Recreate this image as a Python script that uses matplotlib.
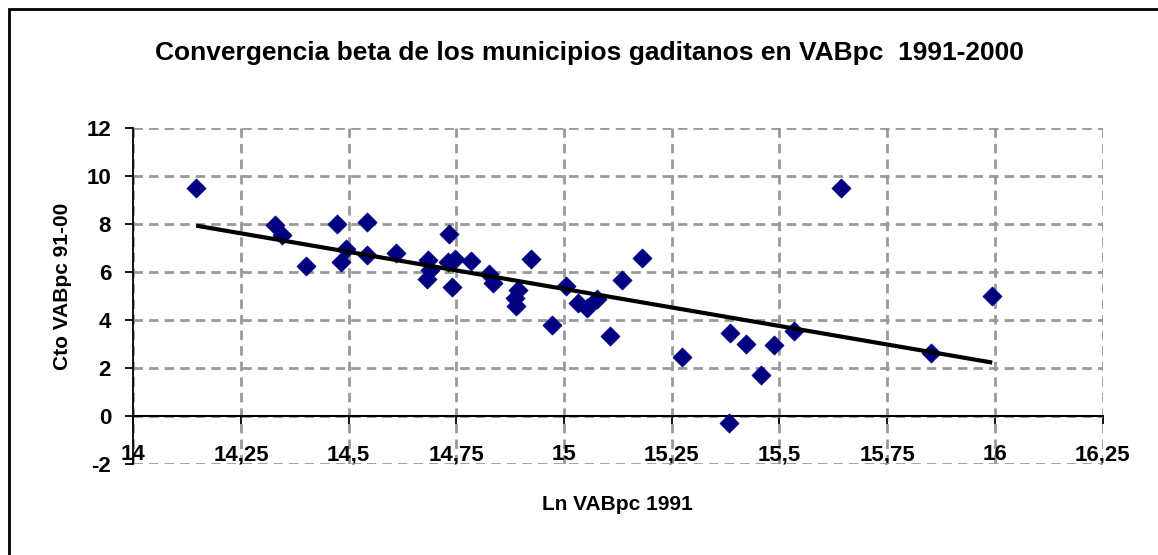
import numpy as np
import matplotlib
matplotlib.use("Agg")
import matplotlib.pyplot as plt
from matplotlib.patches import Rectangle
from matplotlib.ticker import FixedLocator, FuncFormatter

plt.rcParams['font.family'] = ['Liberation Sans', 'DejaVu Sans']
plt.rcParams['axes.unicode_minus'] = False

# Data
ln_vabpc_1991 = [14.146, 14.328, 14.345, 14.401, 14.474, 14.482, 14.493, 14.542, 14.542, 14.609,
                 14.683, 14.689, 14.681, 14.732, 14.731, 14.747, 14.739, 14.785, 14.826, 14.834,
                 14.892, 14.886, 14.889, 14.924, 14.971, 15.004, 15.033, 15.053, 15.076, 15.107,
                 15.135, 15.182, 15.274, 15.386, 15.384, 15.423, 15.458, 15.487, 15.534, 15.642,
                 15.852, 15.994]
cto_vabpc = [9.50, 7.96, 7.55, 6.25, 8.03, 6.43, 6.97, 8.11, 6.71, 6.80,
             6.53, 6.10, 5.71, 7.58, 6.42, 6.55, 5.37, 6.46, 5.92, 5.54,
             5.26, 4.94, 4.60, 6.57, 3.80, 5.44, 4.73, 4.52, 4.90, 3.35,
             5.68, 6.61, 2.47, 3.46, -0.26, 3.00, 1.72, 2.97, 3.55, 9.51,
             2.63, 5.01]
x_ticks = [14, 14.25, 14.5, 14.75, 15, 15.25, 15.5, 15.75, 16, 16.25]
y_ticks = [-2, 0, 2, 4, 6, 8, 10, 12]

title = "Convergencia beta de los municipios gaditanos en VABpc  1991-2000"
xlabel = "Ln VABpc 1991"
ylabel = "Cto VABpc 91-00"

W, H = 1158, 555
fig = plt.figure(figsize=(W / 100, H / 100), dpi=100)
fig.patch.set_facecolor('white')

# Outer frame (right and bottom edges fall outside the picture)
fig.add_artist(Rectangle((9 / W, -0.2), 1.5, 1.2 - 9 / H, transform=fig.transFigure,
                         fill=False, ec='black', lw=2.0, clip_on=False))

left, right = 133.3 / W, 1102.5 / W
top, bottom = 1 - 128.3 / H, 1 - 464.3 / H
ax = fig.add_axes([left, bottom, right - left, top - bottom])
ax.set_xlim(14, 16.25)
ax.set_ylim(-2, 12)

grid_kw = dict(color='#999999', lw=2.0, ls=(0, (3.4, 2.2)))
ax.xaxis.set_major_locator(FixedLocator(x_ticks))
ax.yaxis.set_major_locator(FixedLocator(y_ticks))
ax.grid(True, **grid_kw)
ax.set_axisbelow(True)

for s in ['top', 'right']:
    ax.spines[s].set_visible(False)
ax.spines['bottom'].set_position(('data', 0))
ax.spines['bottom'].set_linewidth(1.5)
ax.spines['left'].set_linewidth(1.3)

fmt = FuncFormatter(lambda v, p: ('%g' % v).replace('.', ','))
ax.xaxis.set_major_formatter(fmt)
ax.tick_params(axis='x', direction='out', length=6, width=1.3, pad=14, labelsize=16)
ax.tick_params(axis='y', direction='out', length=6, width=1.3, pad=10, labelsize=16)
for lab in ax.get_xticklabels() + ax.get_yticklabels():
    lab.set_fontweight('bold')

x = np.array(ln_vabpc_1991)
y = np.array(cto_vabpc)
ax.scatter(x, y, marker='D', s=95, color='#000080', edgecolors='#000080', lw=0.5, zorder=3)

slope, intercept = np.polyfit(x, y, 1)
xx = np.array([x.min(), x.max()])
ax.plot(xx, slope * xx + intercept, color='black', lw=3.0, zorder=4, solid_capstyle='butt')

fig.text(589 / W, 1 - 53 / H, title, ha='center', va='center', fontsize=19, fontweight='bold')
fig.text(617 / W, 1 - 504 / H, xlabel, ha='center', va='center', fontsize=15, fontweight='bold')
fig.text(62 / W, 1 - 286 / H, ylabel, ha='center', va='center', rotation=90,
         fontsize=15, fontweight='bold')

fig.savefig('out.png', dpi=100)
